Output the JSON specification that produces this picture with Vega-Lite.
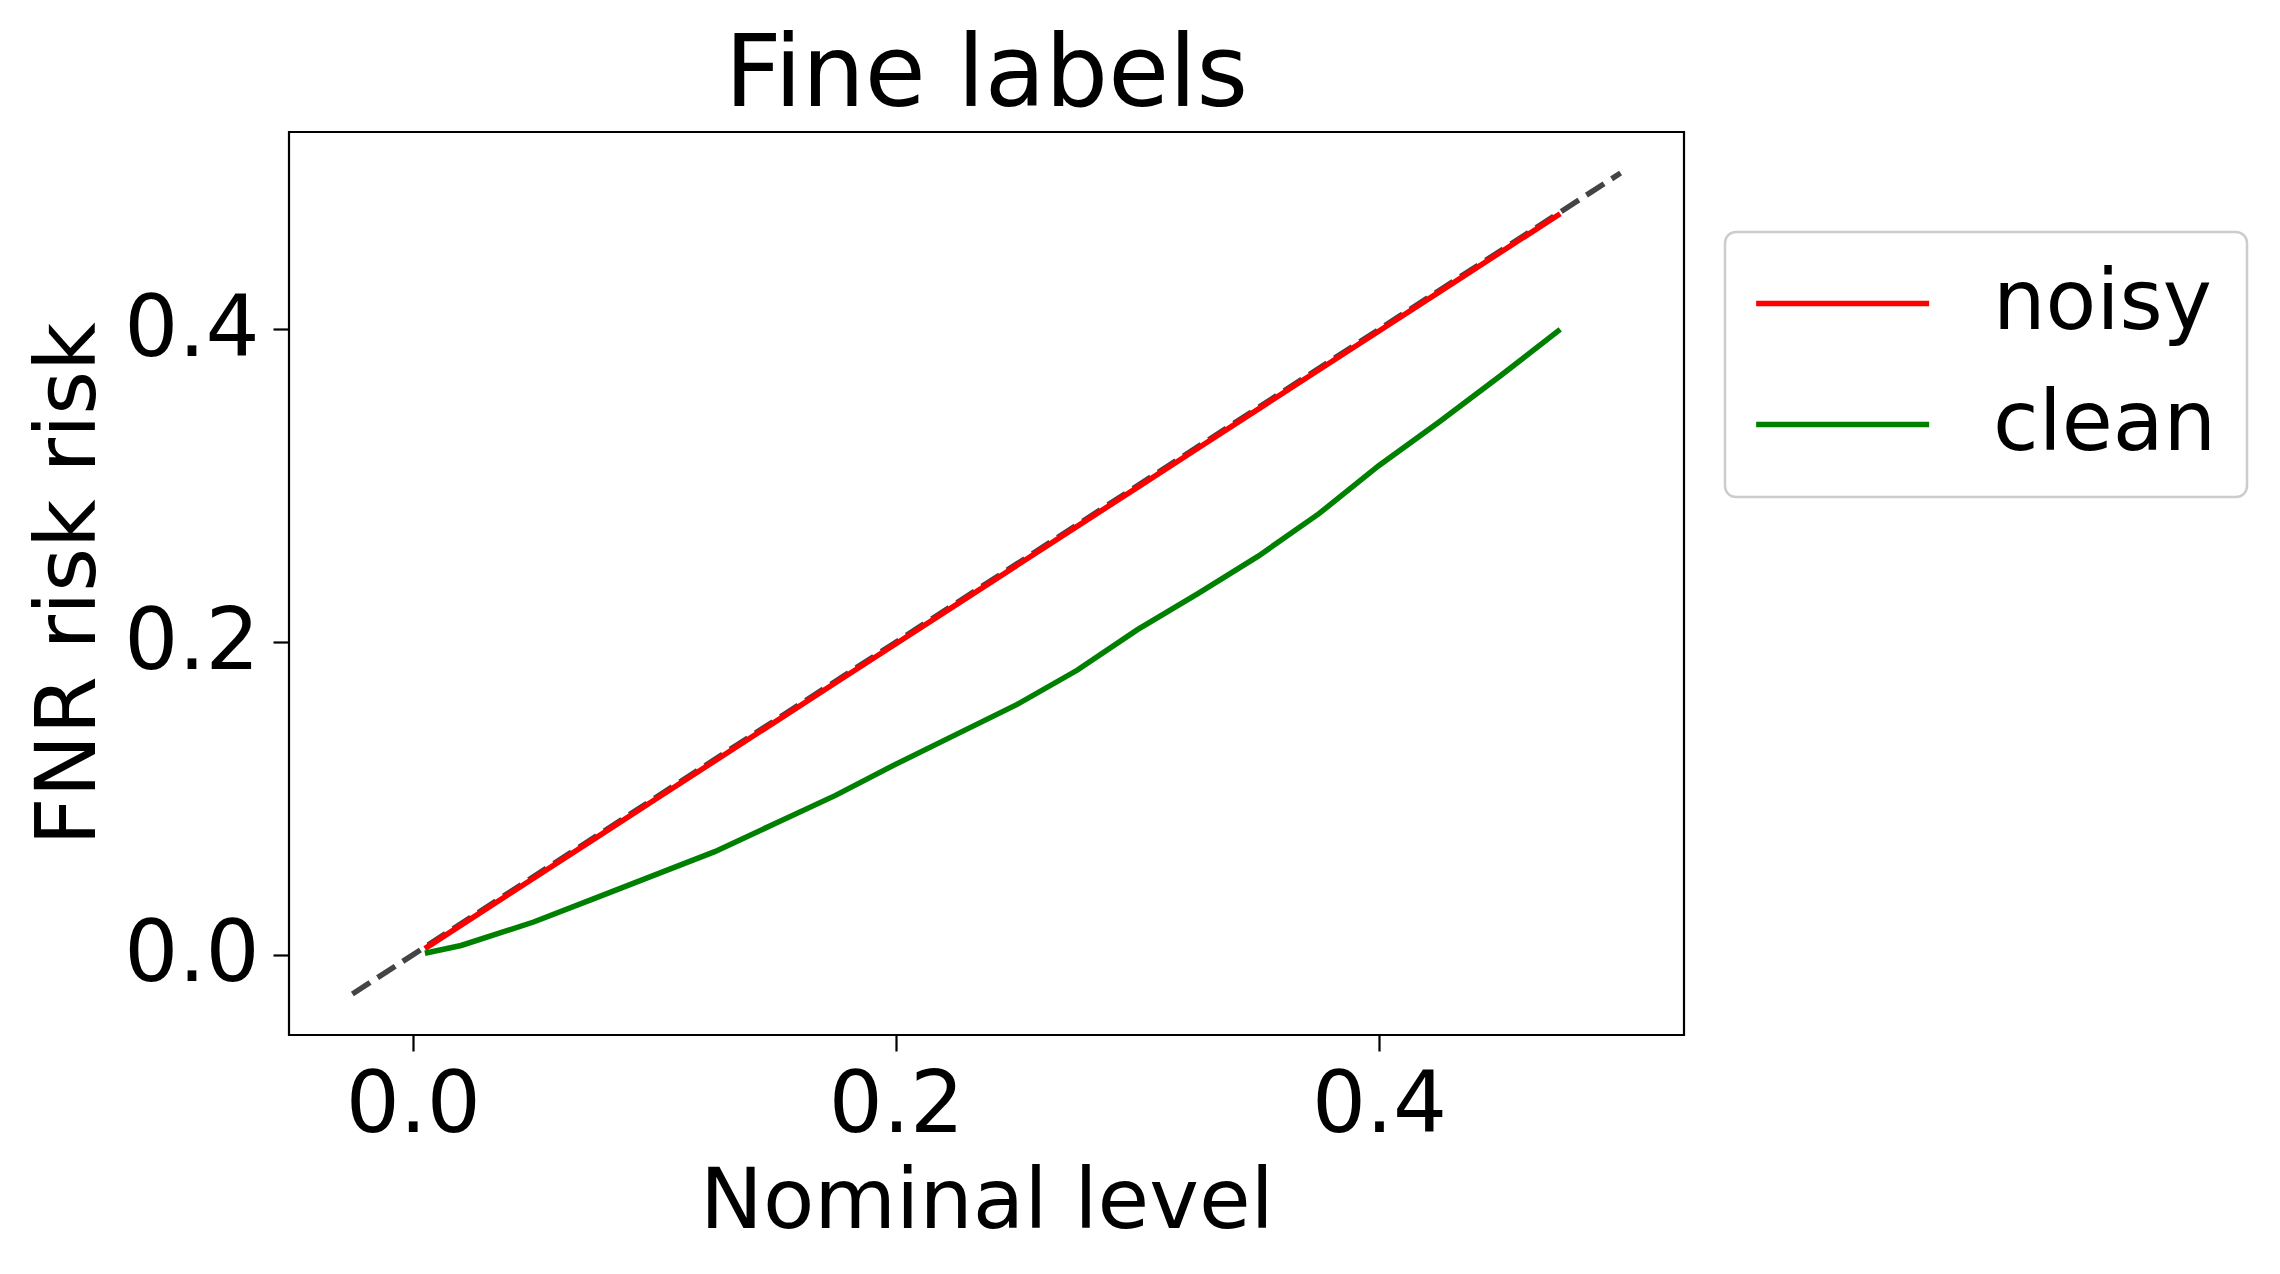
{
  "$schema": "https://vega.github.io/schema/vega-lite/v6.json",
  "autosize": {"type": "none"},
  "width": 1395,
  "height": 903,
  "padding": {"left": 289, "top": 132, "right": 596, "bottom": 239},
  "background": "white",
  "title": {"text": "Fine labels", "fontSize": 99, "font": "DejaVu Sans", "fontWeight": "normal", "color": "black", "baseline": "alphabetic", "offset": -73, "anchor": "middle", "frame": "group"},
  "datasets": {
    "diag": [
      {"x": -0.025, "y": -0.025},
      {"x": 0.5, "y": 0.5}
    ],
    "series": [
      {"x": 0.005, "y": 0.004, "series": "noisy"},
      {"x": 0.02, "y": 0.019, "series": "noisy"},
      {"x": 0.05, "y": 0.049, "series": "noisy"},
      {"x": 0.075, "y": 0.074, "series": "noisy"},
      {"x": 0.1, "y": 0.099, "series": "noisy"},
      {"x": 0.125, "y": 0.124, "series": "noisy"},
      {"x": 0.15, "y": 0.149, "series": "noisy"},
      {"x": 0.175, "y": 0.174, "series": "noisy"},
      {"x": 0.2, "y": 0.199, "series": "noisy"},
      {"x": 0.225, "y": 0.224, "series": "noisy"},
      {"x": 0.25, "y": 0.249, "series": "noisy"},
      {"x": 0.275, "y": 0.274, "series": "noisy"},
      {"x": 0.3, "y": 0.299, "series": "noisy"},
      {"x": 0.325, "y": 0.324, "series": "noisy"},
      {"x": 0.35, "y": 0.349, "series": "noisy"},
      {"x": 0.375, "y": 0.374, "series": "noisy"},
      {"x": 0.4, "y": 0.399, "series": "noisy"},
      {"x": 0.425, "y": 0.424, "series": "noisy"},
      {"x": 0.45, "y": 0.449, "series": "noisy"},
      {"x": 0.475, "y": 0.474, "series": "noisy"},
      {"x": 0.005, "y": 0.001, "series": "clean"},
      {"x": 0.02, "y": 0.006, "series": "clean"},
      {"x": 0.05, "y": 0.021, "series": "clean"},
      {"x": 0.075, "y": 0.036, "series": "clean"},
      {"x": 0.1, "y": 0.051, "series": "clean"},
      {"x": 0.125, "y": 0.066, "series": "clean"},
      {"x": 0.15, "y": 0.084, "series": "clean"},
      {"x": 0.175, "y": 0.102, "series": "clean"},
      {"x": 0.2, "y": 0.122, "series": "clean"},
      {"x": 0.225, "y": 0.141, "series": "clean"},
      {"x": 0.25, "y": 0.16, "series": "clean"},
      {"x": 0.275, "y": 0.182, "series": "clean"},
      {"x": 0.3, "y": 0.208, "series": "clean"},
      {"x": 0.325, "y": 0.231, "series": "clean"},
      {"x": 0.35, "y": 0.255, "series": "clean"},
      {"x": 0.375, "y": 0.282, "series": "clean"},
      {"x": 0.4, "y": 0.313, "series": "clean"},
      {"x": 0.425, "y": 0.341, "series": "clean"},
      {"x": 0.45, "y": 0.37, "series": "clean"},
      {"x": 0.475, "y": 0.4, "series": "clean"}
    ]
  },
  "encoding": {
    "x": {
      "field": "x", "type": "quantitative",
      "scale": {"domain": [-0.05125, 0.52625], "nice": false, "zero": false},
      "axis": {
        "values": [0, 0.2, 0.4], "format": ".1f", "title": "Nominal level",
        "labelFontSize": 85, "labelFont": "DejaVu Sans", "labelColor": "black",
        "tickSize": 16, "tickWidth": 2.2, "tickColor": "black", "labelPadding": 13,
        "titleFontSize": 84, "titleFont": "DejaVu Sans", "titleFontWeight": "normal", "titleColor": "black",
        "titlePadding": 13, "domain": false, "grid": false, "labelFlush": false
      }
    },
    "y": {
      "field": "y", "type": "quantitative",
      "scale": {"domain": [-0.05125, 0.52625], "nice": false, "zero": false},
      "axis": {
        "values": [0, 0.2, 0.4], "format": ".1f", "title": "FNR risk risk",
        "labelFontSize": 85, "labelFont": "DejaVu Sans", "labelColor": "black",
        "tickSize": 16, "tickWidth": 2.2, "tickColor": "black", "labelPadding": 14,
        "titleFontSize": 84, "titleFont": "DejaVu Sans", "titleFontWeight": "normal", "titleColor": "black",
        "titlePadding": 11, "domain": false, "grid": false, "labelFlush": false
      }
    }
  },
  "layer": [
    {
      "data": {"name": "diag"},
      "mark": {"type": "line", "color": "#444444", "strokeWidth": 5.5, "strokeDash": [21, 9]}
    },
    {
      "data": {"name": "series"},
      "mark": {"type": "line", "strokeWidth": 5.5},
      "encoding": {
        "color": {
          "field": "series", "type": "nominal",
          "scale": {"domain": ["noisy", "clean"], "range": ["#ff0000", "#008000"]},
          "legend": {
            "orient": "none", "legendX": 1436, "legendY": 100, "title": null,
            "symbolType": "M-1.4,0H4.6", "symbolSize": 3326, "symbolStrokeWidth": 5.5,
            "labelFontSize": 83, "labelFont": "DejaVu Sans", "labelColor": "black",
            "labelOffset": 155, "rowPadding": 37, "padding": 30, "labelLimit": 0,
            "fillColor": "white", "strokeColor": "#cccccc", "cornerRadius": 11,
            "encode": {"legend": {"update": {"strokeWidth": {"value": 2.5}}}}
          }
        }
      }
    }
  ],
  "config": {
    "view": {"stroke": "black", "strokeWidth": 2.2}
  }
}
